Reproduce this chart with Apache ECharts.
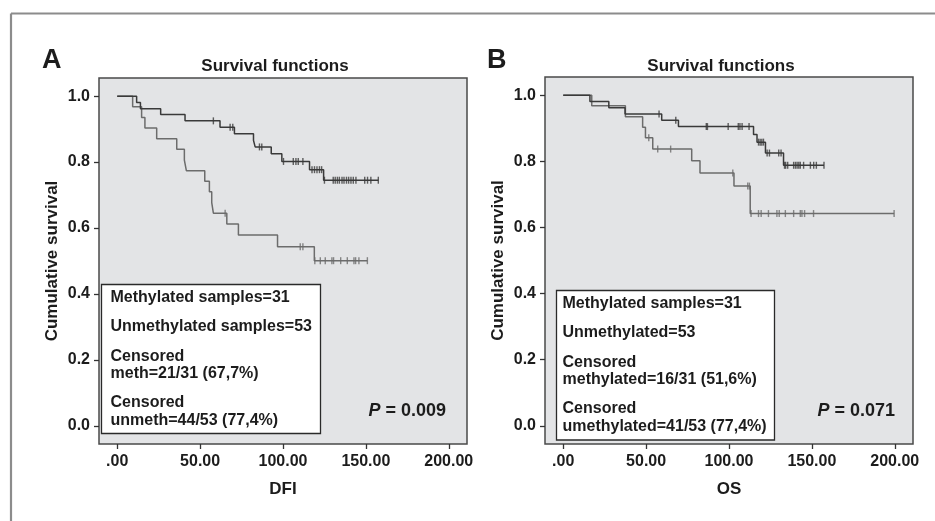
<!DOCTYPE html>
<html>
<head>
<meta charset="utf-8">
<script src="https://cdn.jsdelivr.net/npm/echarts@6/dist/echarts.min.js"></script>
<style>
  html, body { margin: 0; padding: 0; background: #fff; }
  #chart { width: 935px; height: 521px; }
</style>
</head>
<body>
<div id="chart"></div>
<script>
// axis ticks
const xTicks = [0, 50, 100, 150, 200];
const xTickLabels = ['.00', '50.00', '100.00', '150.00', '200.00'];
const yTicks = [0, 0.2, 0.4, 0.6, 0.8, 1.0];
const yTickLabels = ['0.0', '0.2', '0.4', '0.6', '0.8', '1.0'];

// panel A - DFI
const dfiUnmethTimes = [11.7, 14.0, 26.2, 40.9, 62.0, 70.7, 82.2, 83.2, 92.9, 99.3, 116.0, 124.5];
const dfiUnmethSurv = [0.981, 0.962, 0.944, 0.925, 0.906, 0.886, 0.866, 0.846, 0.825, 0.802, 0.777, 0.745];
const dfiUnmethCensored = [58.0, 68.1, 69.7, 85.8, 87.2, 100.3, 106.2, 107.8, 109.2, 112.0, 117.5, 119.0, 120.5, 122.0, 123.3,
  125.0, 130.3, 131.5, 132.8, 134.0, 135.6, 136.8, 138.3, 139.6, 141.0, 142.4, 144.0, 149.3, 151.0, 153.0, 157.5];
const dfiMethTimes = [9.3, 14.7, 16.7, 23.8, 35.9, 40.5, 41.7, 52.8, 55.6, 57.0, 58.0, 66.1, 73.1, 96.7, 118.9];
const dfiMethSurv = [0.968, 0.935, 0.903, 0.871, 0.839, 0.806, 0.774, 0.742, 0.710, 0.677, 0.645, 0.612, 0.579, 0.543, 0.501];
const dfiMethCensored = [65.1, 110.4, 112.0, 119.2, 122.5, 125.5, 129.5, 130.5, 134.8, 138.8, 142.8, 143.8, 145.8, 150.9];

// panel B - OS
const osUnmethTimes = [16.1, 27.5, 37.3, 59.4, 69.5, 114.8, 116.9, 122.0, 132.9];
const osUnmethSurv = [0.981, 0.962, 0.943, 0.924, 0.905, 0.881, 0.858, 0.825, 0.788];
const osUnmethCensored = [57.8, 67.9, 86.3, 87.0, 99.5, 105.6, 106.6, 107.9, 112.1, 117.8, 118.8, 119.8, 120.8, 123.0, 124.4,
  130.0, 131.4, 133.5, 134.2, 135.4, 139.0, 140.1, 141.1, 142.1, 143.0, 145.0, 149.1, 151.1, 152.7, 157.3];
const osMethTimes = [17.2, 37.5, 47.9, 49.6, 54.0, 77.5, 82.5, 103.0, 112.8];
const osMethSurv = [0.968, 0.935, 0.903, 0.871, 0.837, 0.802, 0.765, 0.725, 0.642];
const osMethCensored = [51.6, 57.0, 64.8, 102.3, 111.3, 112.3, 113.3, 117.8, 119.4, 123.8, 128.9, 130.3, 134.0, 139.0,
  143.0, 144.0, 145.6, 151.0, 199.6];

const legendA = ['Methylated samples=31', 'Unmethylated samples=53', 'Censored', 'meth=21/31 (67,7%)', 'Censored', 'unmeth=44/53 (77,4%)'];
const legendB = ['Methylated samples=31', 'Unmethylated=53', 'Censored', 'methylated=16/31 (51,6%)', 'Censored', 'umethylated=41/53 (77,4%)'];

const FONT = '"Liberation Sans", Arial, Helvetica, sans-serif';
const TXT = '#1c1c1c';
const DARK = '#3a3a3a';
const LIGHT = '#6c6c6c';

const pickLabel = (ticks, labels) => (v) => {
  const i = ticks.findIndex(t => Math.abs(t - v) < 1e-6);
  return i >= 0 ? labels[i] : '';
};

const survAt = (times, surv, t) => {
  let s = 1;
  times.forEach((et, i) => { if (et <= t) s = surv[i]; });
  return s;
};

const stepData = (times, surv, censored) => {
  const end = Math.max(...censored);
  const pts = [[0, 1]];
  times.forEach((t, i) => pts.push([t, surv[i]]));
  pts.push([end, survAt(times, surv, end)]);
  return pts;
};

const censorData = (times, surv, censored) => censored.map(t => [t, survAt(times, surv, t)]);

const curveSeries = (idx, times, surv, censored, color) => [
  {
    type: 'line', xAxisIndex: idx, yAxisIndex: idx, step: 'end', symbol: 'none',
    data: stepData(times, surv, censored),
    lineStyle: { color: color, width: 1.5 }, silent: true
  },
  {
    type: 'scatter', xAxisIndex: idx, yAxisIndex: idx, symbol: 'rect', symbolSize: [1.4, 7],
    data: censorData(times, surv, censored),
    itemStyle: { color: color }, silent: true, z: 3
  }
];

const xAxisFor = (idx, name) => ({
  type: 'value', gridIndex: idx, min: -11, max: 211,
  name: name, nameLocation: 'middle', nameGap: 37,
  nameTextStyle: { fontFamily: FONT, fontWeight: 'bold', fontSize: 17, color: TXT },
  axisLine: { show: false, onZero: false },
  axisTick: { show: true, customValues: xTicks, length: 5, lineStyle: { color: '#333', width: 1.3 } },
  axisLabel: { customValues: xTicks, formatter: pickLabel(xTicks, xTickLabels), margin: 10,
    fontFamily: FONT, fontWeight: 'bold', fontSize: 16, color: TXT },
  splitLine: { show: false }
});

const yAxisFor = (idx) => ({
  type: 'value', gridIndex: idx, min: -0.055, max: 1.055,
  name: 'Cumulative survival', nameLocation: 'middle', nameGap: 38, nameRotate: 90,
  nameTextStyle: { fontFamily: FONT, fontWeight: 'bold', fontSize: 17, color: TXT },
  axisLine: { show: false, onZero: false },
  axisTick: { show: true, customValues: yTicks, length: 5, lineStyle: { color: '#333', width: 1.3 } },
  axisLabel: { customValues: yTicks, formatter: pickLabel(yTicks, yTickLabels), margin: 9,
    fontFamily: FONT, fontWeight: 'bold', fontSize: 16, color: TXT },
  splitLine: { show: false }
});

const txt = (x, y, text, size, align, extra) => ({
  type: 'text', x: x, y: y, z: 10,
  style: Object.assign({ text: text, fontFamily: FONT, fontWeight: 'bold', fontSize: size, fill: TXT,
    textAlign: align || 'left', textVerticalAlign: 'middle' }, extra || {})
});

const legendBox = (x, y, w, h, textX, lineYs, lines) => [
  { type: 'rect', z: 9, shape: { x: x, y: y, width: w, height: h },
    style: { fill: '#fff', stroke: '#2a2a2a', lineWidth: 1.3 } },
  ...lines.map((l, i) => txt(textX, lineYs[i], l, 16))
];

const pText = (xRight, y, value) => ({
  type: 'text', x: xRight, y: y, z: 10,
  style: { text: '{i|P} = ' + value, fontFamily: FONT, fontWeight: 'bold', fontSize: 18, fill: TXT,
    textAlign: 'right', textVerticalAlign: 'middle',
    rich: { i: { fontStyle: 'italic', fontWeight: 'bold', fontSize: 18, fontFamily: FONT, fill: TXT } } }
});

const chart = echarts.init(document.getElementById('chart'));
chart.setOption({
  backgroundColor: '#fff',
  animation: false,
  grid: [
    { left: 99, top: 78, width: 368, height: 366, show: true, backgroundColor: '#e3e4e6', borderColor: '#4a4a4a', borderWidth: 1.5 },
    { left: 545, top: 77, width: 368, height: 367, show: true, backgroundColor: '#e3e4e6', borderColor: '#4a4a4a', borderWidth: 1.5 }
  ],
  xAxis: [xAxisFor(0, 'DFI'), xAxisFor(1, 'OS')],
  yAxis: [yAxisFor(0), yAxisFor(1)],
  series: [
    ...curveSeries(0, dfiMethTimes, dfiMethSurv, dfiMethCensored, LIGHT),
    ...curveSeries(0, dfiUnmethTimes, dfiUnmethSurv, dfiUnmethCensored, DARK),
    ...curveSeries(1, osMethTimes, osMethSurv, osMethCensored, LIGHT),
    ...curveSeries(1, osUnmethTimes, osUnmethSurv, osUnmethCensored, DARK)
  ],
  graphic: [
    // outer frame (top and left edges visible)
    { type: 'line', shape: { x1: 11, y1: 13.5, x2: 935, y2: 13.5 }, style: { stroke: '#8c8c8c', lineWidth: 2.2 } },
    { type: 'line', shape: { x1: 11, y1: 13.5, x2: 11, y2: 521 }, style: { stroke: '#8c8c8c', lineWidth: 2.2 } },
    txt(42, 61, 'A', 27, 'left'),
    txt(487, 61, 'B', 27, 'left'),
    txt(275, 66.5, 'Survival functions', 17, 'center'),
    txt(721, 66.5, 'Survival functions', 17, 'center'),
    ...legendBox(101.5, 284.5, 219, 149, 110.5, [297.5, 326.5, 356.5, 374, 402.5, 420.5], legendA),
    ...legendBox(556.5, 290.5, 218, 149.5, 562.5, [303.5, 333, 362.5, 380, 408.5, 426.5], legendB),
    pText(446, 411.5, '0.009'),
    pText(895, 411.5, '0.071')
  ]
});
</script>
</body>
</html>
